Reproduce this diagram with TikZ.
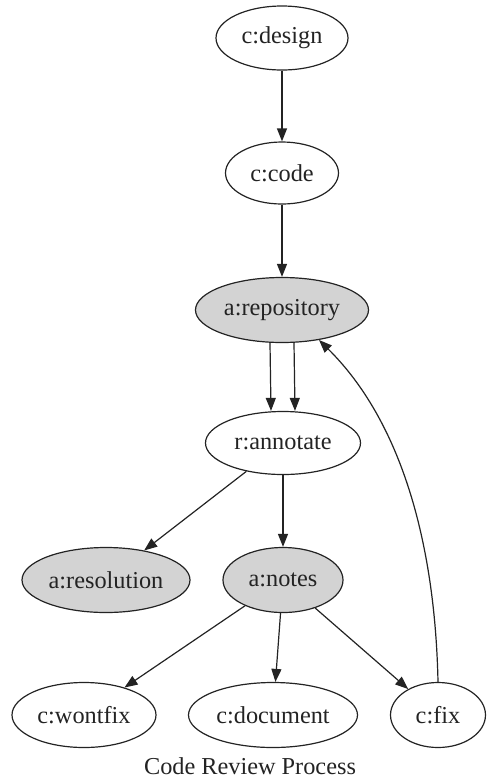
\documentclass[tikz,border=0pt]{standalone}
\usepackage{fontspec}
\setmainfont{Liberation Serif}
\usetikzlibrary{shapes.geometric,arrows.meta}
\definecolor{nodegray}{RGB}{211,211,211}
\definecolor{inkgray}{RGB}{35,35,35}
\begin{document}
\begin{tikzpicture}[x=1pt,y=-1pt,
  gnode/.style={ellipse,draw=inkgray,line width=1.2pt,inner sep=0pt,
    font=\fontsize{24.3}{28}\selectfont,text=inkgray},
  anode/.style={gnode,fill=nodegray},
  edge/.style={draw=inkgray,line width=1.2pt,-{Triangle[length=13pt,width=10pt]}},
  captiontext/.style={font=\fontsize{24.3}{28}\selectfont,text=inkgray,inner sep=0pt,anchor=base}]
\useasboundingbox (0,0) rectangle (487,780);

\node[gnode,minimum width=132pt,minimum height=64pt] (design) at (282,38) {c:design};
\node[gnode,minimum width=113pt,minimum height=62pt] (code) at (282,173) {c:code};
\node[anode,minimum width=173pt,minimum height=65pt] (repository) at (282,310) {a:repository};
\node[gnode,minimum width=155pt,minimum height=63pt] (annotate) at (283,443) {r:annotate};
\node[anode,minimum width=168pt,minimum height=65pt] (resolution) at (106,580) {a:resolution};
\node[anode,minimum width=120pt,minimum height=65pt] (notes) at (283,580) {a:notes};
\node[gnode,minimum width=144pt,minimum height=65pt] (wontfix) at (84,715) {c:wontfix};
\node[gnode,minimum width=169pt,minimum height=65pt] (document) at (273,715) {c:document};
\node[gnode,minimum width=95pt,minimum height=65pt] (fix) at (438,715) {c:fix};
\node[captiontext] (caption) at (250,774) {Code Review Process};

\draw[edge] (design) -- (code);
\draw[edge] (code) -- (repository);
\draw[edge] ([xshift=-12pt]repository.south) -- ([xshift=-12pt]annotate.north);
\draw[edge] ([xshift=12pt]repository.south) -- ([xshift=12pt]annotate.north);
\draw[edge] (annotate) -- (resolution);
\draw[edge] (annotate) -- (notes);
\draw[edge] (notes) -- (wontfix);
\draw[edge] (notes) -- (document);
\draw[edge] (notes) -- (fix);
\draw[edge] (fix.north) .. controls (435,540) and (400,420) .. (repository.-39);
\end{tikzpicture}
\end{document}
